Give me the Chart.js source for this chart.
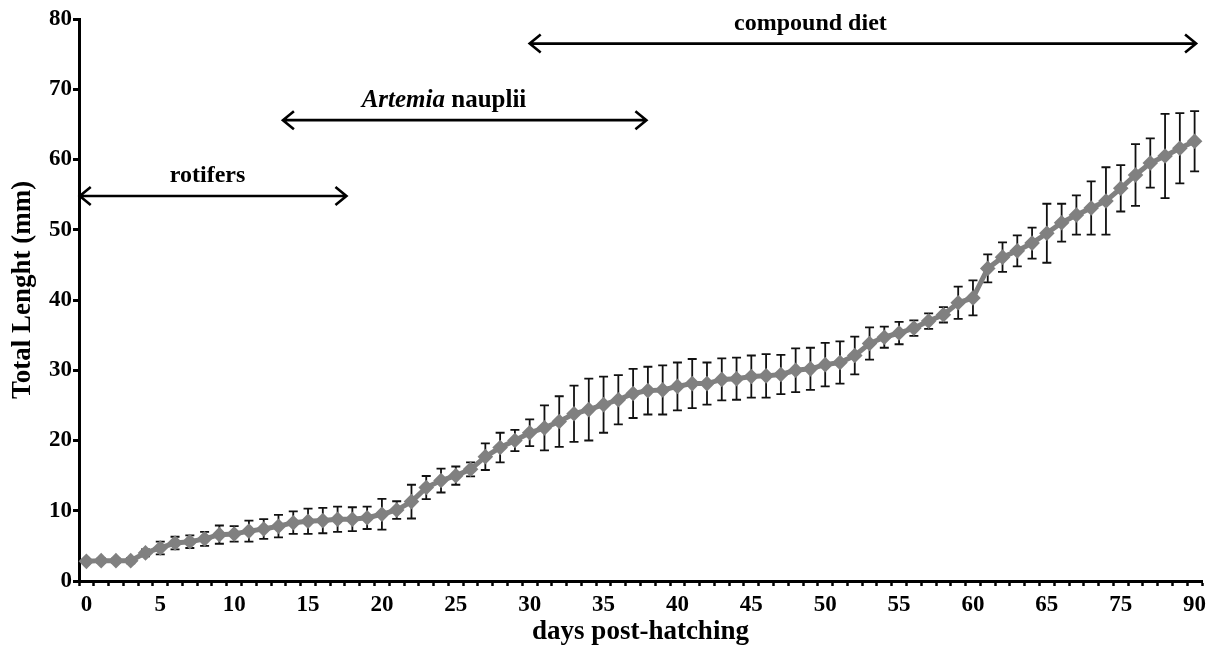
<!DOCTYPE html>
<html>
<head>
<meta charset="utf-8">
<script src="https://cdn.jsdelivr.net/npm/chart.js@4.4.1/dist/chart.umd.min.js"></script>
<style>
  html, body { margin: 0; padding: 0; background: #fff; }
  #wrap { width: 1214px; height: 646px; }
</style>
</head>
<body>
<div id="wrap"><canvas id="growth"></canvas></div>
<script>

// DATA //

const days = [0, 1, 2, 3, 4, 5, 6, 7, 8, 9, 10, 11, 12, 13, 14, 15, 16, 17, 18, 19,
  20, 21, 22, 23, 24, 25, 26, 27, 28, 29, 30, 31, 32, 33, 34, 35, 36, 37, 38, 39,
  40, 41, 42, 43, 44, 45, 46, 47, 48, 49, 50, 51, 52, 53, 54, 55, 56, 57, 58, 59,
  60, 61, 62, 63, 64, 65, 67, 69, 71, 73, 75, 78, 81, 84, 87, 90];

const meanLength = [2.8, 2.9, 2.9, 2.9, 4.0, 4.7, 5.4, 5.6, 6.0, 6.6, 6.7, 7.1, 7.4, 7.8, 8.3, 8.5, 8.6, 8.8, 8.8, 9.0,
  9.5, 10.1, 11.3, 13.3, 14.3, 15.0, 15.9, 17.7, 19.0, 20.0, 21.1, 21.8, 22.7, 23.8, 24.4, 25.1, 25.8, 26.7, 27.1, 27.2,
  27.7, 28.1, 28.1, 28.7, 28.8, 29.1, 29.2, 29.4, 30.0, 30.2, 30.8, 31.1, 32.1, 33.8, 34.7, 35.3, 36.0, 37.0, 37.9, 39.6,
  40.3, 44.5, 46.1, 47.0, 48.1, 49.5, 51.0, 52.1, 53.1, 54.1, 55.9, 57.8, 59.5, 60.5, 61.6, 62.6];

const sdLength = [0.3, 0.3, 0.3, 0.4, 0.5, 0.9, 0.9, 0.9, 1.0, 1.3, 1.1, 1.5, 1.4, 1.6, 1.6, 1.8, 1.8, 1.8, 1.7, 1.6,
  2.2, 1.25, 2.4, 1.65, 1.7, 1.3, 1.0, 1.9, 2.1, 1.5, 1.9, 3.2, 3.6, 4.0, 4.4, 4.0, 3.5, 3.5, 3.4, 3.5,
  3.4, 3.5, 3.0, 3.0, 3.0, 3.0, 3.1, 2.8, 3.1, 3.0, 3.1, 3.0, 2.7, 2.3, 1.5, 1.6, 1.1, 1.1, 1.1, 2.3,
  2.5, 2.0, 2.1, 2.2, 2.2, 4.2, 2.7, 2.8, 3.8, 4.8, 3.3, 4.4, 3.5, 6.0, 5.0, 4.3];

const yTicks = [0, 10, 20, 30, 40, 50, 60, 70, 80];

// feeding periods (in category index units along the x axis, value on y)
const feedNames = ['rotifers', 'Artemia', 'compound diet'];
const feedStart = [-0.45, 13.3, 30.0];
const feedEnd = [17.6, 37.9, 75.1];
const feedLevel = [54.8, 65.6, 76.5];
const feedTextX = [8.2, 24.2, 49.0];

const serif = '"Liberation Serif", "Times New Roman", serif';


// ERROR BARS //

const errorBars = {
  id: 'errorBars',
  beforeDatasetsDraw(chart) {
    const x = chart.scales.x, y = chart.scales.y, c = chart.ctx;
    c.save();
    c.strokeStyle = '#111';
    c.lineWidth = 1.8;
    meanLength.forEach((m, i) => {
      const px = x.getPixelForValue(i);
      const top = y.getPixelForValue(m + sdLength[i]);
      const bot = y.getPixelForValue(m - sdLength[i]);
      c.beginPath();
      c.moveTo(px, top); c.lineTo(px, bot);
      c.moveTo(px - 4.5, top); c.lineTo(px + 4.5, top);
      c.moveTo(px - 4.5, bot); c.lineTo(px + 4.5, bot);
      c.stroke();
    });
    c.restore();
  }
};


// FLECHES DES PERIODES D'ALIMENTATION //

const feedArrows = {
  id: 'feedArrows',
  afterDraw(chart) {
    const x = chart.scales.x, y = chart.scales.y, c = chart.ctx;
    c.save();
    c.strokeStyle = '#000';
    c.fillStyle = '#000';
    c.lineWidth = 2.6;
    feedNames.forEach((name, i) => {
      const x0 = x.getPixelForValue(feedStart[i]);
      const x1 = x.getPixelForValue(feedEnd[i]);
      const py = y.getPixelForValue(feedLevel[i]);
      c.beginPath();
      c.moveTo(x0, py); c.lineTo(x1, py);
      c.moveTo(x0 + 11, py - 9); c.lineTo(x0, py); c.lineTo(x0 + 11, py + 9);
      c.moveTo(x1 - 11, py - 9); c.lineTo(x1, py); c.lineTo(x1 - 11, py + 9);
      c.stroke();

      const tx = x.getPixelForValue(feedTextX[i]);
      const ty = py - 20;
      c.textBaseline = 'middle';
      if (name === 'Artemia') {
        c.font = 'italic bold 25px ' + serif;
        const w1 = c.measureText('Artemia').width;
        c.font = 'bold 25px ' + serif;
        const w2 = c.measureText(' nauplii').width;
        let sx = tx - (w1 + w2) / 2;
        c.textAlign = 'left';
        c.font = 'italic bold 25px ' + serif;
        c.fillText('Artemia', sx, ty);
        c.font = 'bold 25px ' + serif;
        c.fillText(' nauplii', sx + w1, ty);
      } else {
        c.font = 'bold 24px ' + serif;
        c.textAlign = 'center';
        c.fillText(name, tx, ty);
      }
    });
    c.restore();
  }
};


// GRAPHIQUE //

const ctx = document.getElementById('growth');

new Chart(ctx, {
  type: 'line',
  data: {
    labels: days,
    datasets: [{
      label: 'Total length',
      data: meanLength,
      borderColor: '#808080',
      borderWidth: 5,
      backgroundColor: '#808080',
      pointStyle: 'rectRot',
      pointRadius: 7.8,
      pointBackgroundColor: '#808080',
      pointBorderWidth: 0,
      tension: 0
    }]
  },
  options: {
    responsive: true,
    maintainAspectRatio: false,
    animation: false,
    events: [],
    layout: {
      padding: { top: 19, right: 12, left: 0, bottom: 0 }
    },
    plugins: {
      legend: false,
      tooltip: { enabled: false }
    },
    scales: {
      x: {
        type: 'category',
        offset: true,
        afterFit: s => { s.height = 65; },
        border: { color: '#000', width: 3 },
        grid: {
          offset: true,
          drawOnChartArea: false,
          tickLength: 5,
          tickWidth: 2.5,
          tickColor: '#000'
        },
        ticks: {
          autoSkip: false,
          maxRotation: 0,
          padding: 5,
          color: '#000',
          font: { family: serif, size: 23, weight: 'bold' },
          callback: (v, i) => (i % 5 === 0 ? String(days[i]) : '')
        },
        title: {
          display: true,
          text: 'days post-hatching',
          color: '#000',
          font: { family: serif, size: 27, weight: 'bold', lineHeight: 1 },
          padding: 0
        }
      },
      y: {
        min: 0,
        max: 80,
        afterFit: s => { s.width = 79; },
        afterBuildTicks: s => { s.ticks = yTicks.map(v => ({ value: v })); },
        border: { color: '#000', width: 3 },
        grid: {
          drawOnChartArea: false,
          tickLength: 6,
          tickWidth: 3,
          tickColor: '#000'
        },
        ticks: {
          padding: 1,
          color: '#000',
          font: { family: serif, size: 23, weight: 'bold' }
        },
        title: {
          display: true,
          text: '   Total Lenght (mm)',
          color: '#000',
          font: { family: serif, size: 27, weight: 'bold', lineHeight: 1.2 },
          padding: { top: 7, bottom: 0 }
        }
      }
    }
  },
  plugins: [errorBars, feedArrows]
});

</script>
</body>
</html>
